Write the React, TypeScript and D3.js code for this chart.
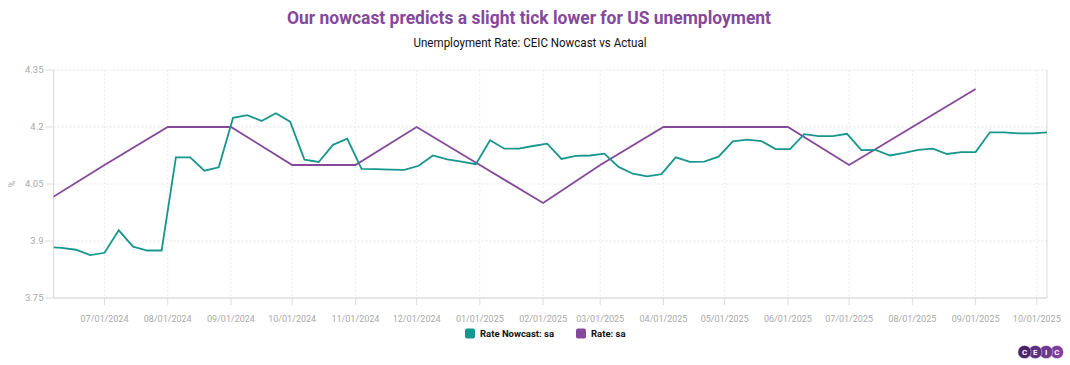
import React from 'react';
import * as d3 from 'd3';

// Weekly nowcast (first point is a partial week, then Mondays)
const nowcastFirstDate = '2024-06-06';
const nowcastWeeklyStart = '2024-06-10';
const nowcastWeeklyEnd = '2025-10-07';
const nowcastValues = [
  3.883,
  3.882, 3.877, 3.863,
  3.869, 3.928, 3.885, 3.875, 3.875,
  4.12, 4.12, 4.085, 4.094,
  4.224, 4.231, 4.216, 4.236, 4.214,
  4.114, 4.108, 4.153, 4.169,
  4.09, 4.089, 4.088, 4.087,
  4.098, 4.125, 4.115, 4.109, 4.102,
  4.165, 4.143, 4.143, 4.15,
  4.156, 4.116, 4.124, 4.125,
  4.13, 4.095, 4.077, 4.07, 4.076,
  4.12, 4.108, 4.109, 4.122,
  4.162, 4.167, 4.163, 4.142,
  4.142, 4.181, 4.176, 4.176, 4.182,
  4.139, 4.14, 4.125, 4.132,
  4.14, 4.143, 4.129, 4.134,
  4.134, 4.186, 4.186, 4.183, 4.183,
  4.186,
];

// Monthly actual rate
const actualDates = [
  '2024-06-01', '2024-07-01', '2024-08-01', '2024-09-01', '2024-10-01', '2024-11-01',
  '2024-12-01', '2025-01-01', '2025-02-01', '2025-03-01', '2025-04-01', '2025-05-01',
  '2025-06-01', '2025-07-01', '2025-08-01', '2025-09-01',
];
const actualValues = [4.0, 4.1, 4.2, 4.2, 4.1, 4.1, 4.2, 4.1, 4.0, 4.1, 4.2, 4.2, 4.2, 4.1, 4.2, 4.3];

const yTicks = [3.75, 3.9, 4.05, 4.2, 4.35];
const xTickDates = [
  '2024-07-01', '2024-08-01', '2024-09-01', '2024-10-01', '2024-11-01', '2024-12-01',
  '2025-01-01', '2025-02-01', '2025-03-01', '2025-04-01', '2025-05-01', '2025-06-01',
  '2025-07-01', '2025-08-01', '2025-09-01', '2025-10-01',
];

const TEAL = '#17968f';
const PURPLE = '#85489b';
const FONT = 'Roboto, sans-serif';

const W = 1070;
const H = 365;
const left = 53.5;
const right = 1047;
const top = 70;
const bottom = 298;

const App: React.FC = () => {
  const nowcastDates = [
    new Date(nowcastFirstDate),
    ...d3.utcMonday.range(new Date(nowcastWeeklyStart), new Date(nowcastWeeklyEnd)),
  ];
  const nowcast = nowcastValues.map((v, i) => ({ d: nowcastDates[i], v }));
  const actual = actualValues.map((v, i) => ({ d: new Date(actualDates[i]), v }));

  const x = d3.scaleUtc()
    .domain([new Date(nowcastFirstDate), nowcastDates[nowcastDates.length - 1]])
    .range([left, right]);
  const y = d3.scaleLinear().domain([3.75, 4.35]).range([bottom, top]);

  const line = d3.line<{ d: Date; v: number }>()
    .x(p => x(p.d))
    .y(p => y(p.v));

  const fmt = d3.utcFormat('%m/%d/%Y');
  const logoColors = ['#4a2468', '#5e2f7e', '#70378f', '#7e3f9c'];
  const logoLetters = ['C', 'E', 'I', 'C'];

  return (
    <svg width={W} height={H} style={{ position: 'absolute', left: 0, top: 0, background: '#fff' }}
      fontFamily={FONT}>
      <defs>
        <clipPath id="plot-clip">
          <rect x={left} y={top - 10} width={right - left} height={bottom - top + 10} />
        </clipPath>
      </defs>

      <text x={529} y={24} textAnchor="middle" fill={PURPLE} fontWeight="bold" fontSize={19}
        textLength={484} lengthAdjust="spacingAndGlyphs">
        Our nowcast predicts a slight tick lower for US unemployment
      </text>
      <text x={530} y={47} textAnchor="middle" fill="#111" fontSize={13.5}
        textLength={233} lengthAdjust="spacingAndGlyphs">
        Unemployment Rate: CEIC Nowcast vs Actual
      </text>

      {/* grid */}
      {yTicks.filter(t => t > 3.75).map(t => (
        <line key={'gy' + t} x1={left} x2={right} y1={y(t)} y2={y(t)}
          stroke="#e3e3e3" strokeDasharray="2,2" />
      ))}
      {xTickDates.map(s => (
        <line key={'gx' + s} x1={x(new Date(s))} x2={x(new Date(s))} y1={top} y2={bottom}
          stroke="#ececec" strokeDasharray="2,2" />
      ))}

      {/* axes */}
      <line x1={left} x2={left} y1={top} y2={bottom} stroke="#dcdcdc" strokeWidth={1.2} />
      <line x1={right} x2={right} y1={top} y2={bottom} stroke="#e2e2e2" strokeWidth={1.2} />
      <line x1={left} x2={right} y1={bottom} y2={bottom} stroke="#dcdcdc" strokeWidth={1.5} />
      {yTicks.map(t => (
        <g key={'yt' + t}>
          <line x1={left - 8} x2={left} y1={y(t)} y2={y(t)} stroke="#dcdcdc" />
          <text x={left - 10} y={y(t)} dy="0.35em" textAnchor="end" fontSize={9.5} fill="#a9a9a9">
            {String(t)}
          </text>
        </g>
      ))}
      <text transform={`translate(15,${y(4.05)}) rotate(-90)`} textAnchor="middle" fontSize={9}
        fill="#a9a9a9">%</text>
      {xTickDates.map(s => {
        const px = x(new Date(s));
        return (
          <g key={'xt' + s}>
            <line x1={px} x2={px} y1={bottom} y2={bottom + 7} stroke="#dcdcdc" />
            <text x={px} y={bottom + 24} textAnchor="middle" fontSize={9} fill="#a9a9a9">
              {fmt(new Date(s))}
            </text>
          </g>
        );
      })}

      {/* series */}
      <g clipPath="url(#plot-clip)">
        <path d={line(actual) || ''} fill="none" stroke={PURPLE} strokeWidth={1.8} />
        <path d={line(nowcast) || ''} fill="none" stroke={TEAL} strokeWidth={1.8} />
      </g>

      {/* legend */}
      <rect x={465} y={328.5} width={10} height={10} rx={2} fill={TEAL} />
      <text x={480} y={337} fontSize={9.5} fontWeight="bold" fill="#111">Rate Nowcast: sa</text>
      <rect x={576} y={328.5} width={10} height={10} rx={2} fill={PURPLE} />
      <text x={591} y={337} fontSize={9.5} fontWeight="bold" fill="#111">Rate: sa</text>

      {/* logo */}
      {logoLetters.map((l, i) => (
        <g key={'logo' + i}>
          <circle cx={1024.5 + i * 10.8} cy={352} r={6.6} fill={logoColors[i]} stroke="#fff"
            strokeWidth={0.4} />
          <text x={1024.5 + i * 10.8} y={352} dy="0.35em" textAnchor="middle" fontSize={8}
            fontWeight="bold" fill="#fff">{l}</text>
        </g>
      )).reverse()}
    </svg>
  );
};

export default App;
